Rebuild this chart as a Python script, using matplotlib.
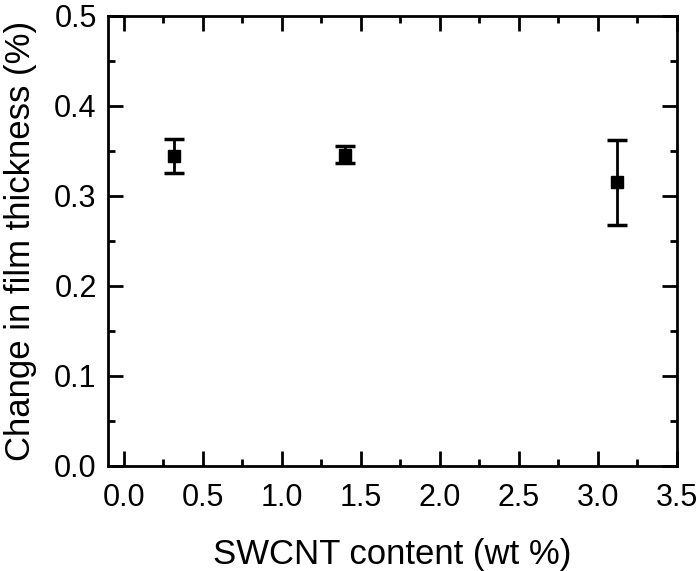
import matplotlib
matplotlib.use("Agg")
import matplotlib.pyplot as plt
from matplotlib.ticker import MultipleLocator, FormatStrFormatter

plt.rcParams['font.family'] = ['Liberation Sans', 'DejaVu Sans']

swcnt = [0.32, 1.40, 3.12]
thickness_change = [0.344, 0.346, 0.315]
errors = [0.019, 0.009, 0.047]

fig = plt.figure(figsize=(7.0, 5.71), dpi=100)
ax = fig.add_axes([0.154, 0.184, 0.813, 0.788])

ax.errorbar(swcnt, thickness_change, yerr=errors, fmt='s', color='black',
            markersize=9, elinewidth=2, capsize=7, capthick=2.5)

ax.set_xlim(-0.1, 3.5)
ax.set_ylim(0.0, 0.5)
ax.xaxis.set_major_locator(MultipleLocator(0.5))
ax.xaxis.set_minor_locator(MultipleLocator(0.25))
ax.yaxis.set_major_locator(MultipleLocator(0.1))
ax.yaxis.set_minor_locator(MultipleLocator(0.05))
ax.xaxis.set_major_formatter(FormatStrFormatter('%.1f'))
ax.yaxis.set_major_formatter(FormatStrFormatter('%.1f'))

ax.tick_params(which='both', direction='in', top=True, right=True, width=2, labelsize=22)
ax.tick_params(which='major', length=11, pad=8)
ax.tick_params(axis='x', which='major', pad=12)
ax.tick_params(which='minor', length=5)
for s in ax.spines.values():
    s.set_linewidth(2)

ax.set_xlabel('SWCNT content (wt %)', fontsize=25, labelpad=18)
ax.set_ylabel('Change in film thickness (%)', fontsize=25, labelpad=12)

fig.savefig('out.png', dpi=100)
